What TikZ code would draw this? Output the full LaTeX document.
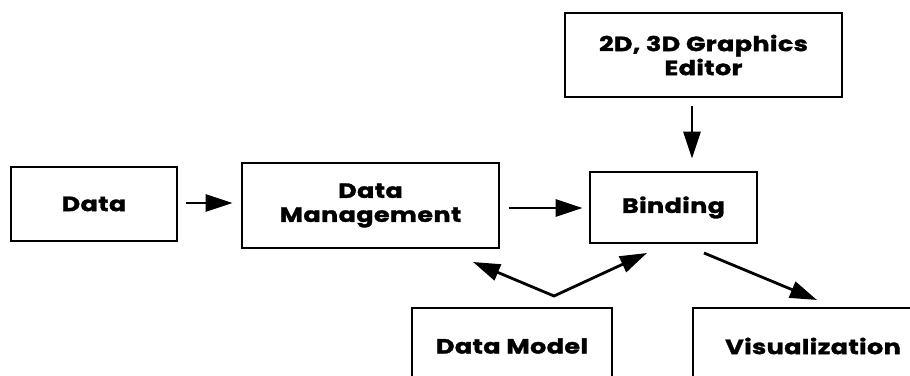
\documentclass[tikz,border=0pt]{standalone}
\usepackage{fontspec}
\setmainfont{Poppins}[FakeStretch=1.24, LetterSpace=2, BoldFeatures={FakeBold=1.6}]
\usetikzlibrary{arrows.meta}
\begin{document}
\begin{tikzpicture}[x=1pt,y=-1pt,
  box/.style={draw=black, line width=1.2pt, inner sep=0pt, align=center,
    font=\fontsize{20.5}{25}\selectfont\bfseries},
  link/.style={line width=2.8pt, -{Triangle[length=27pt,width=17pt]}},
  biglink/.style={line width=2.8pt, {Triangle[length=27pt,width=17pt]}-{Triangle[length=27pt,width=17pt]}}]
\useasboundingbox (0,0) rectangle (910,375);
\clip (0,0) rectangle (910,375);
% boxes (centre, width, height)
\node[box, minimum width=166pt, minimum height=74pt] (data) at (94,204) {Data};
\node[box, minimum width=257pt, minimum height=85pt] (mgmt) at (370.5,205.5) {Data\\[-1pt]Management};
\node[box, minimum width=167pt, minimum height=71pt] (bind) at (673.5,207.5) {Binding};
\node[box, minimum width=277pt, minimum height=84pt] (editor) at (703.5,55) {2D, 3D Graphics\\[-1pt]Editor};
\node[box, minimum width=200pt, minimum height=76pt] (model) at (512,346) {Data Model};
\node[box, minimum width=240pt, minimum height=76pt] (vis) at (813,346) {Visualization};
% free arrow ends
\coordinate (dmL) at (473,262);
\coordinate (dmV) at (554,296);
\coordinate (dmR) at (647,253);
\coordinate (visS) at (704,253);
\coordinate (visE) at (817,300);
% connectors
\draw[link] (data.east |- 0,203) ++(8,0) -- ++(47,0);
\draw[link] (mgmt.east |- 0,208) ++(9,0) -- ++(74,0);
\draw[link] (editor.south -| 692,0) ++(0,8) -- ++(0,53);
\draw[biglink] (dmL) -- (dmV) -- (dmR);
\draw[link] (visS) -- (visE);
\end{tikzpicture}
\end{document}
